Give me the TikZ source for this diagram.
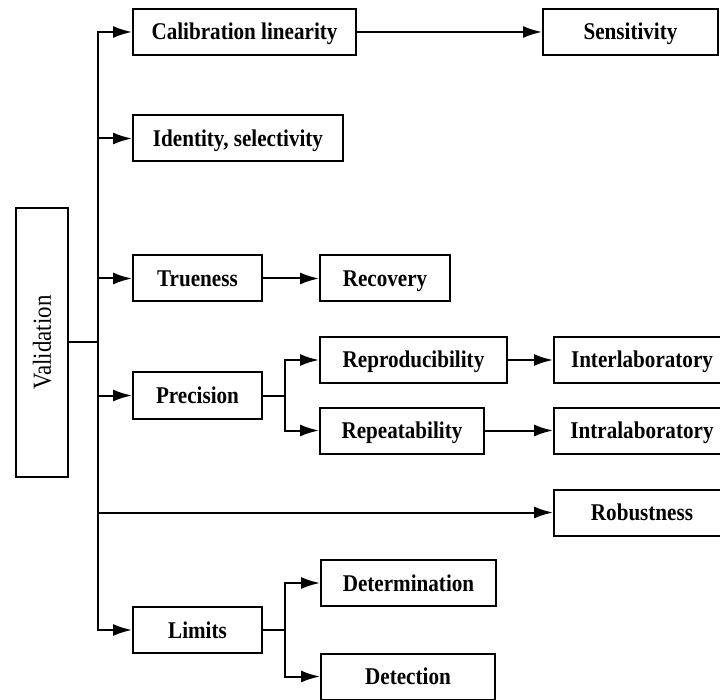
\documentclass[tikz,border=0pt]{standalone}
\usepackage{fontspec}
\setmainfont{Liberation Serif}[FakeStretch=0.88]
\usetikzlibrary{arrows.meta}
\begin{document}
\begin{tikzpicture}[x=1pt,y=-1pt,
  box/.style={draw,line width=2pt,minimum height=46pt,inner sep=0pt,text height=20pt,text depth=4pt,font=\fontsize{24}{26}\selectfont\bfseries},
  conn/.style={line width=2pt},
  arr/.style={line width=2pt,-{Latex[length=19pt,width=12pt]}}]
\useasboundingbox (0,0) rectangle (720,700);
\node[draw,line width=2pt,minimum width=52pt,minimum height=269pt,inner sep=0pt] (val) at (42,342.5) {};
\node[rotate=90,font=\fontsize{26}{28}\selectfont] (valt) at (42,342.5) {Validation};
\node[box,minimum width=223pt] (cal) at (244.5,32) {Calibration linearity};
\node[box,minimum width=175pt] (sens) at (630.5,32) {Sensitivity};
\node[box,minimum width=210pt] (iden) at (238,138.5) {Identity, selectivity};
\node[box,minimum width=129pt] (true) at (197.5,278.5) {Trueness};
\node[box,minimum width=130pt] (rec) at (385,278.5) {Recovery};
\node[box,minimum width=129pt] (prec) at (197.5,395.5) {Precision};
\node[box,minimum width=187pt] (repro) at (413.5,360) {Reproducibility};
\node[box,minimum width=164pt] (repeat) at (402,430.5) {Repeatability};
\node[box,minimum width=176pt] (inter) at (642,360) {Interlaboratory};
\node[box,minimum width=176pt] (intra) at (642,430.5) {Intralaboratory};
\node[box,minimum width=176pt] (rob) at (642,512.5) {Robustness};
\node[box,minimum width=129pt] (lim) at (197.5,630) {Limits};
\node[box,minimum width=175pt] (det) at (408.5,583) {Determination};
\node[box,minimum width=174pt] (dtc) at (408,676.5) {Detection};
\coordinate (tr) at (98,0);
\coordinate (b1) at (285,0);
\coordinate (b2) at (285,0);
% trunk
\draw[conn] (val.east) -- (tr |- val.east);
\draw[arr] (tr |- val.east) |- (cal.west);
\draw[arr] (tr |- val.east) |- (lim.west);
\draw[arr] (tr |- iden.west) -- (iden.west);
\draw[arr] (tr |- true.west) -- (true.west);
\draw[arr] (tr |- prec.west) -- (prec.west);
\draw[arr] (tr |- rob.west) -- (rob.west);
% second level
\draw[arr] (cal.east) -- (sens.west);
\draw[arr] (true.east) -- (rec.west);
\draw[conn] (prec.east) -- (b1 |- prec.east);
\draw[arr] (b1 |- prec.east) |- (repro.west);
\draw[arr] (b1 |- prec.east) |- (repeat.west);
\draw[arr] (repro.east) -- (inter.west);
\draw[arr] (repeat.east) -- (intra.west);
\draw[conn] (lim.east) -- (b2 |- lim.east);
\draw[arr] (b2 |- lim.east) |- (det.west);
\draw[arr] (b2 |- lim.east) |- (dtc.west);
\end{tikzpicture}
\end{document}
